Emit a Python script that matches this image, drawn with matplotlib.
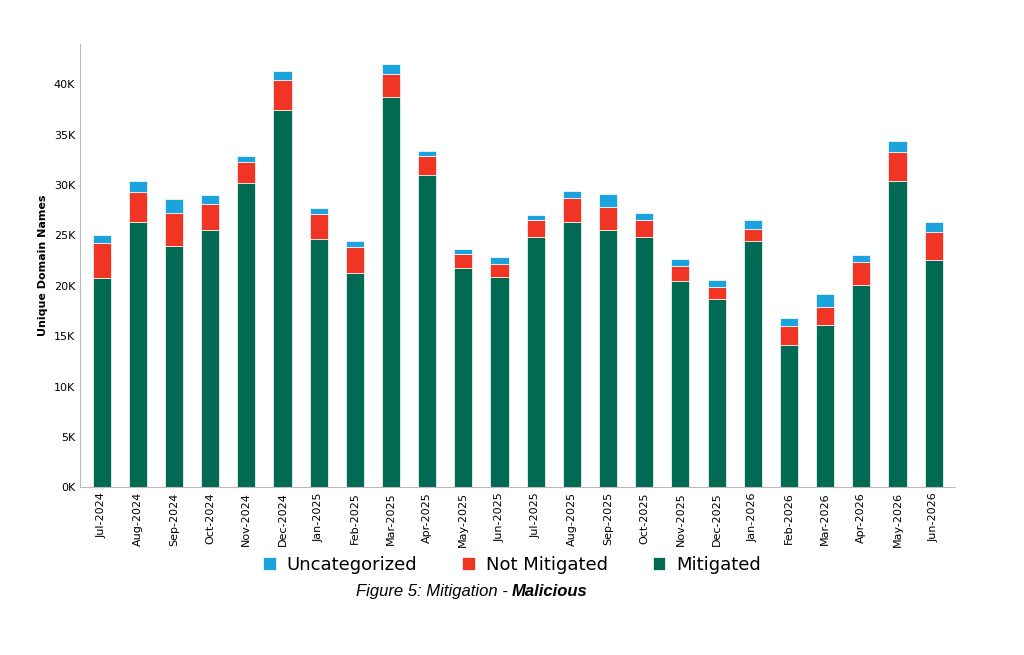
import matplotlib
matplotlib.use('Agg')
import matplotlib.pyplot as plt
import numpy as np

months = ['Jul-2024', 'Aug-2024', 'Sep-2024', 'Oct-2024', 'Nov-2024', 'Dec-2024',
          'Jan-2025', 'Feb-2025', 'Mar-2025', 'Apr-2025', 'May-2025', 'Jun-2025',
          'Jul-2025', 'Aug-2025', 'Sep-2025', 'Oct-2025', 'Nov-2025', 'Dec-2025',
          'Jan-2026', 'Feb-2026', 'Mar-2026', 'Apr-2026', 'May-2026', 'Jun-2026']
# values in thousands
mitigated = [20.8, 26.3, 23.9, 25.5, 30.2, 37.4, 24.6, 21.3, 38.7, 31.0, 21.8, 20.9,
             24.8, 26.3, 25.5, 24.8, 20.5, 18.7, 24.4, 14.1, 16.1, 20.1, 30.4, 22.6]
not_mitigated = [3.4, 3.0, 3.3, 2.6, 2.1, 3.0, 2.5, 2.5, 2.3, 1.9, 1.4, 1.3,
                 1.7, 2.4, 2.3, 1.7, 1.5, 1.2, 1.2, 1.9, 1.8, 2.3, 2.9, 2.7]
uncategorized = [0.8, 1.1, 1.4, 0.9, 0.6, 0.9, 0.6, 0.6, 1.0, 0.5, 0.4, 0.7,
                 0.5, 0.7, 1.3, 0.7, 0.7, 0.7, 0.9, 0.8, 1.3, 0.7, 1.1, 1.0]

c_mit = '#006b52'
c_not = '#f03524'
c_unc = '#1aa3dd'

fig = plt.figure(figsize=(10.24, 6.55), dpi=100)
ax = fig.add_axes([0.078, 0.256, 0.855, 0.677])

x = np.arange(len(months))
m = np.array(mitigated) * 1000
n = np.array(not_mitigated) * 1000
u = np.array(uncategorized) * 1000
w = 0.5
ax.bar(x, m, w, color=c_mit, edgecolor='white', linewidth=0.5, label='Mitigated')
ax.bar(x, n, w, bottom=m, color=c_not, edgecolor='white', linewidth=0.5, label='Not Mitigated')
ax.bar(x, u, w, bottom=m + n, color=c_unc, edgecolor='white', linewidth=0.5, label='Uncategorized')

ax.set_xlim(-0.6, len(months) - 0.4)
ax.set_ylim(0, 44000)
ax.set_yticks(np.arange(0, 40001, 5000))
ax.set_yticklabels(['%dK' % (v // 1000) for v in range(0, 40001, 5000)], fontsize=8)
ax.set_xticks(x)
ax.set_xticklabels(months, rotation=90, fontsize=8)
ax.tick_params(length=0)
ax.set_ylabel('Unique Domain Names', fontsize=8, fontweight='bold')
for s in ['top', 'right']:
    ax.spines[s].set_visible(False)
for s in ['left', 'bottom']:
    ax.spines[s].set_color('#bbbbbb')

h, l = ax.get_legend_handles_labels()
fig.legend(h[::-1], l[::-1], loc='center', bbox_to_anchor=(0.5, 0.138), ncol=3,
           frameon=False, fontsize=13, handlelength=0.7, handleheight=0.7,
           columnspacing=2.5, handletextpad=0.6)
fig.text(0.5, 0.097, 'Figure 5: Mitigation - ', ha='right', va='center',
         fontsize=12, style='italic', family='Liberation Sans')
fig.text(0.5, 0.097, 'Malicious', ha='left', va='center',
         fontsize=12, style='italic', weight='bold', family='Liberation Sans')

fig.savefig('out.png', dpi=100, facecolor='white')
